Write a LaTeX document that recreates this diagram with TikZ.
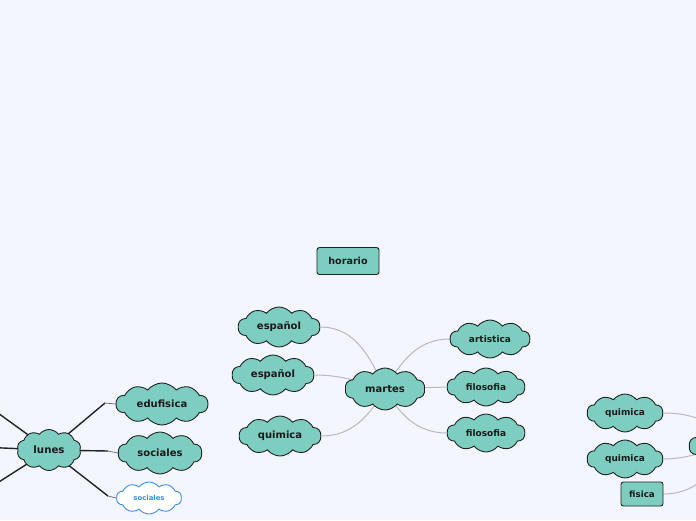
\documentclass[tikz,border=0pt]{standalone}
\usepackage{fontspec}
\setmainfont{DejaVu Sans}
\usetikzlibrary{shapes.symbols, backgrounds}
\definecolor{pagebg}{HTML}{F3F5FF}
\definecolor{topicfill}{HTML}{7ECDC1}
\definecolor{topicline}{HTML}{1E2424}
\definecolor{linkgray}{HTML}{B9B9BC}
\definecolor{linkdark}{HTML}{202424}
\definecolor{subblue}{HTML}{3A8EE8}

\begin{document}
\begin{tikzpicture}[
    x=1pt, y=1pt,
    topic/.style={cloud, cloud puffs=10, cloud puff arc=105, cloud ignores aspect,
      draw=topicline, fill=topicfill, line width=0.9pt, inner sep=0pt,
      font=\bfseries\fontsize{10}{11}\selectfont, text=black!90},
    small topic/.style={topic, font=\bfseries\fontsize{9}{10}\selectfont},
    boxtopic/.style={draw=topicline, fill=topicfill, line width=0.9pt,
      rounded corners=2.5pt, inner sep=0pt, text=black!90},
    softlink/.style={linkgray, line width=1pt},
    hardlink/.style={linkdark, line width=1.4pt},
  ]

  % Page
  \clip (0,0) rectangle (696,-520);
  \useasboundingbox (0,0) rectangle (696,-520);

  % === Title ===
  \node[boxtopic, minimum width=62, minimum height=27,
        font=\bfseries\fontsize{9.6}{11}\selectfont] (horario) at (348,-261) {horario};

  % === martes ===
  \node[topic, minimum width=80, minimum height=42] (martes) at (385,-389) {martes};
  \node[topic, minimum width=82, minimum height=40] (esp1) at (279,-327) {español};
  \node[topic, minimum width=82, minimum height=40] (esp2) at (273,-375) {español};
  \node[topic, minimum width=82, minimum height=40] (quim1) at (280,-436) {quimica};
  \node[small topic, minimum width=80, minimum height=38] (artis) at (490,-339) {artistica};
  \node[small topic, minimum width=78, minimum height=38] (filo1) at (486,-387) {filosofia};
  \node[small topic, minimum width=78, minimum height=38] (filo2) at (486,-433) {filosofia};

  % === lunes ===
  \node[topic, minimum width=64, minimum height=41,
        font=\bfseries\fontsize{10.2}{12}\selectfont] (lunes) at (49,-450) {lunes};
  \node[topic, minimum width=92, minimum height=42] (edufi) at (162,-404) {edufisica};
  \node[topic, minimum width=84, minimum height=42] (soc1) at (160,-453) {sociales};
  \node[topic, minimum width=65, minimum height=32, fill=white, draw=subblue,
        text=subblue, font=\bfseries\fontsize{6.9}{8}\selectfont] (soc2) at (149,-498) {sociales};

  % === right group ===
  \node[small topic, minimum width=76, minimum height=38] (quim2) at (625,-413) {quimica};
  \node[small topic, minimum width=76, minimum height=38] (quim3) at (625,-459) {quimica};
  \node[boxtopic, minimum width=42, minimum height=24,
        font=\bfseries\fontsize{8.7}{10}\selectfont] (fisica) at (642,-494) {fisica};
  \node[topic, minimum width=80, minimum height=40] (dia) at (729,-446) {};

  % off-page ends of the lunes links
  \coordinate (out1) at (-20,-400);
  \coordinate (out2) at (-20,-447);
  \coordinate (out3) at (-20,-494);
  \coordinate (bend1) at (105,-403);
  \coordinate (bend2) at (108,-451);
  \coordinate (bend3) at (108,-496);

  % === Links ===
  \begin{scope}[on background layer]
    \fill[pagebg] (0,0) rectangle (696,-520);
    \draw[softlink] (esp1.east) to[out=0, in=115] (martes.center);
    \draw[softlink] (esp2.east) to[out=0, in=165] (martes.center);
    \draw[softlink] (quim1.east) to[out=0, in=-120] (martes.center);
    \draw[softlink] (artis.west) to[out=180, in=60] (martes.center);
    \draw[softlink] (filo1.west) -- (martes.center);
    \draw[softlink] (filo2.west) to[out=180, in=-60] (martes.center);

    \draw[hardlink] (lunes.center) -- (bend1);
    \draw[linkdark!70, line width=0.7pt] (bend1) -- (edufi.west);
    \draw[hardlink] (lunes.center) -- (bend2);
    \draw[linkdark!70, line width=0.7pt] (bend2) -- (soc1.west);
    \draw[hardlink] (lunes.center) -- (bend3);
    \draw[linkdark!70, line width=0.7pt] (bend3) -- (soc2.west);
    \draw[hardlink] (lunes.center) -- (out1);
    \draw[hardlink] (lunes.center) -- (out2);
    \draw[hardlink] (lunes.center) -- (out3);

    \draw[softlink] (quim2.east) to[out=0, in=120] (dia.center);
    \draw[softlink] (quim3.east) to[out=0, in=190] (dia.center);
    \draw[softlink] (fisica.east) to[out=0, in=-120] (dia.center);
  \end{scope}

\end{tikzpicture}
\end{document}
